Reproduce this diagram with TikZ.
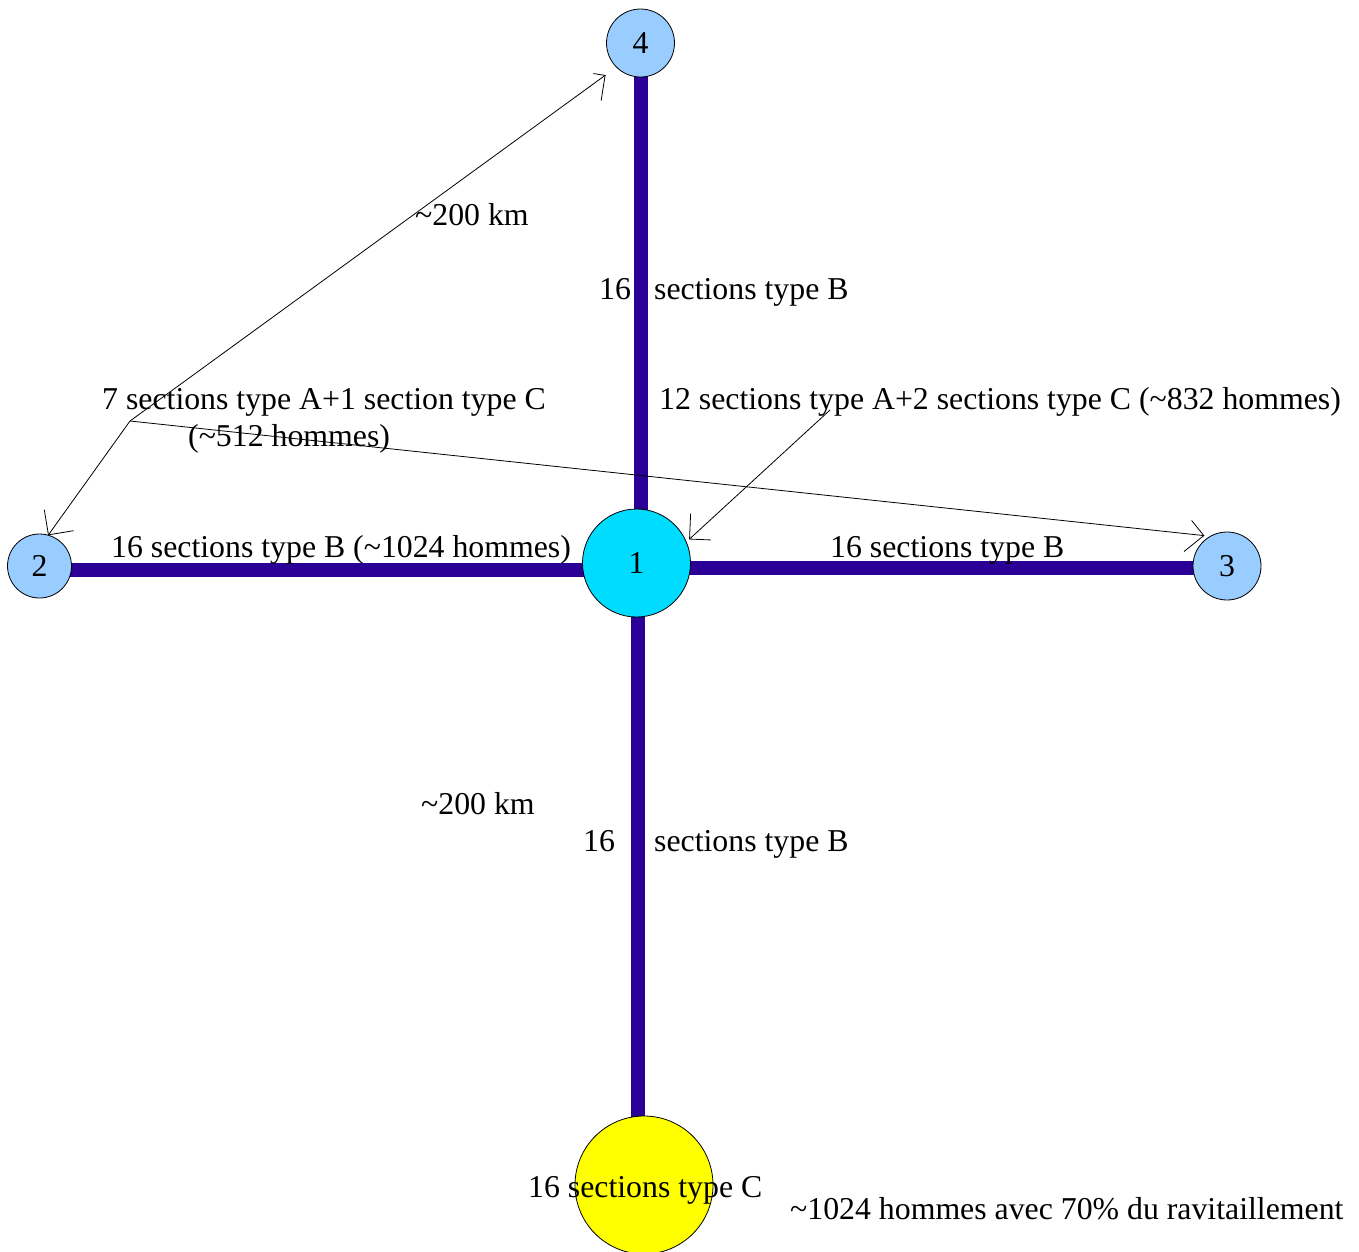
\documentclass[tikz,border=0pt]{standalone}
\usepackage{fontspec}
\setmainfont{Liberation Serif}
\usetikzlibrary{decorations.markings,backgrounds}
\definecolor{barblue}{RGB}{42,0,150}
\definecolor{lightblue}{RGB}{153,204,255}
\definecolor{hubcyan}{RGB}{0,220,255}
\definecolor{sunyellow}{RGB}{255,255,0}
\begin{document}
\begin{tikzpicture}[x=1pt,y=-1pt,
  city/.style={circle,draw=black,line width=0.8pt,inner sep=0pt,font=\fontsize{31.8}{36}\selectfont},
  lbl/.style={anchor=base west,inner sep=0pt,font=\fontsize{31.8}{36}\selectfont},
  bar/.style={draw=barblue,line width=14pt},
  pointer/.style={draw=black,line width=0.8pt,shorten >=#1,
    decoration={markings,mark=at position -#1-0.01pt with
      {\draw[line width=0.8pt,line join=miter] (-18pt,-18pt) -- (0pt,0pt) -- (-18pt,18pt);}},
    postaction={decorate}},
  pointer/.default=0.01pt]
\useasboundingbox (0,0) rectangle (1359,1251);
% cities
\node[city,fill=lightblue,minimum size=68pt] (n4) at (640.5,43) {4};
\node[city,fill=lightblue,minimum size=64pt] (n2) at (39.5,566) {2};
\node[city,fill=lightblue,minimum size=68pt] (n3) at (1227,566) {3};
\node[city,fill=hubcyan,minimum size=108pt] (n1) at (636.5,563) {1};
\node[city,fill=sunyellow,minimum size=138pt] (n5) at (644,1185) {};
% bars
\begin{pgfonlayer}{background}
\draw[bar] (n4.center) -- (n4.center |- n1.center);
\draw[bar] ([yshift=-4pt]n2.center) -- ([yshift=-4pt]n2.center -| n1.center);
\draw[bar] ([yshift=-2pt]n1.center |- n3.center) -- ([yshift=-2pt]n3.center);
\draw[bar] ([xshift=1.5pt]n1.center) -- ([xshift=1.5pt]n1.center |- n5.center);
\end{pgfonlayer}
% labels
\node[lbl] (d1) at (415,225) {\textasciitilde200 km};
\node[lbl] (b1n) at (599,299) {16};
\node[lbl] (b1t) at (654,299) {sections type B};
\node[lbl] (g2a) at (102,409) {7 sections type A+1 section type C};
\node[lbl] (g2b) at (188,446) {(\textasciitilde512 hommes)};
\node[lbl] (g1) at (659,409) {12 sections type A+2 sections type C (\textasciitilde832 hommes)};
\node[lbl] (b2) at (111,557) {16 sections type B (\textasciitilde1024 hommes)};
\node[lbl] (b3) at (830,557) {16 sections type B};
\node[lbl] (d2) at (421,814) {\textasciitilde200 km};
\node[lbl] (b4n) at (583,851) {16};
\node[lbl] (b4t) at (654,851) {sections type B};
\node[lbl] (c5) at (528,1197) {16 sections type C};
\node[lbl] (r5) at (790,1219) {\textasciitilde1024 hommes avec 70\% du ravitaillement};
% pointers
\coordinate (hub) at (130,421);
\coordinate (hub1) at (830,410);
\draw[pointer] (hub) -- (n2.74);
\draw[pointer=13.6pt] (hub) -- (n4.225);
\draw[pointer=6pt] (hub) -- (n3.120);
\draw[pointer=4pt] (hub1) -- (n1.23);
\end{tikzpicture}
\end{document}
